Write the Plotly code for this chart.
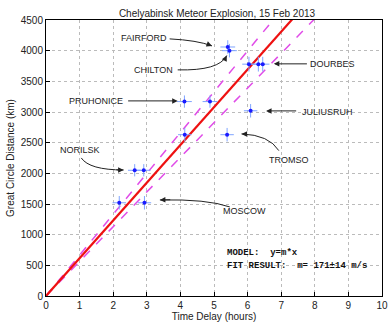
import plotly.graph_objects as go

# Station timing measurements: delay (hours) vs great-circle distance (km)
delay_h = [5.41, 5.46, 6.04, 6.32, 6.45, 4.12, 4.88, 6.09, 5.39, 4.13, 2.64, 2.91, 2.18, 2.93]
distance_km = [4060, 4000, 3780, 3780, 3780, 3170, 3170, 3020, 2630, 2630, 2050, 2050, 1520, 1520]
delay_err_h = [0.22, 0.22, 0.2, 0.2, 0.2, 0.22, 0.22, 0.2, 0.2, 0.2, 0.2, 0.2, 0.2, 0.2]
distance_err_km = [110, 110, 120, 120, 120, 100, 100, 110, 110, 110, 100, 100, 110, 110]

# Fit result (m/s)
fit_m = 171
fit_dm = 14

# Station labels: name, text position, arrow path (start, control, tip)
station_names = ["FAIRFORD", "CHILTON", "DOURBES", "PRUHONICE", "JULIUSRUH", "TROMSO", "NORILSK", "MOSCOW"]
label_x = [2.92, 3.19, 8.54, 1.49, 8.39, 7.22, 1.02, 5.91]
label_y = [4209, 3687, 3785, 3186, 3007, 2219, 2387, 1392]
arrow_start = [(3.68, 4192), (3.92, 3687), (7.81, 3785), (2.40, 3181), (7.49, 3018), (6.93, 2370), (1.05, 2251), (5.47, 1452)]
arrow_ctrl = [(4.50, 4170), (5.15, 3670), None, None, None, (6.64, 2626), (1.29, 2055), (4.80, 1582)]
arrow_tip = [(4.94, 4078), (5.38, 3920), (6.78, 3785), (3.92, 3181), (6.55, 3018), (5.82, 2643), (2.31, 2055), (3.39, 1566)]

x_ticks = list(range(0, 11))
y_ticks = list(range(0, 4501, 500))

KMH_PER_MS = 3.6
x_line = [0, 10]

fig = go.Figure()

# Fit line with +/- uncertainty bounds
for m, color, dash, width in [
    (fit_m + fit_dm, "#e04ce8", "dash", 1.5),
    (fit_m - fit_dm, "#e04ce8", "dash", 1.5),
    (fit_m, "#ee1111", "solid", 2.2),
]:
    fig.add_trace(go.Scatter(
        x=x_line, y=[v * m * KMH_PER_MS for v in x_line],
        mode="lines", line=dict(color=color, dash=dash, width=width),
        hoverinfo="skip", showlegend=False,
    ))

fig.add_trace(go.Scatter(
    x=delay_h, y=distance_km, mode="markers",
    marker=dict(color="#1a1aff", size=4),
    error_x=dict(type="data", array=delay_err_h, color="#7fa4ff", thickness=1, width=0),
    error_y=dict(type="data", array=distance_err_km, color="#7fa4ff", thickness=1, width=0),
    showlegend=False,
))

label_font = dict(family="Liberation Sans, Arial", size=9, color="#222")
for name, lx, ly, s, c, t in zip(station_names, label_x, label_y, arrow_start, arrow_ctrl, arrow_tip):
    fig.add_annotation(x=lx, y=ly, text=name, showarrow=False, font=label_font)
    if c is not None:
        # curved shaft, arrowhead added below
        fig.add_shape(type="path", xref="x", yref="y",
                      path=f"M {s[0]},{s[1]} Q {c[0]},{c[1]} {t[0]},{t[1]}",
                      line=dict(color="#222", width=1))
        hx = t[0] + (c[0] - t[0]) * 0.25
        hy = t[1] + (c[1] - t[1]) * 0.25
    else:
        hx, hy = s
    fig.add_annotation(x=t[0], y=t[1], ax=hx, ay=hy, axref="x", ayref="y",
                       text="", showarrow=True, arrowhead=2, arrowsize=1.1,
                       arrowwidth=1, arrowcolor="#222")

mono = dict(family="Liberation Mono, Courier New", size=9, color="#111")
fig.add_annotation(x=5.32, y=701, text="<b>MODEL:  y=m*x</b>", showarrow=False,
                   xanchor="left", font=mono)
fig.add_annotation(x=5.32, y=489,
                   text=f"<b>FIT RESULT:  m= {fit_m}\u00b1{fit_dm} m/s</b>",
                   showarrow=False, xanchor="left", font=mono)

axis_common = dict(
    showline=True, linecolor="#000", linewidth=1, mirror=True,
    ticks="inside", ticklen=4, tickcolor="#000",
    showgrid=True, gridcolor="#bbbbbb", griddash="dot", gridwidth=1,
    zeroline=False, tickfont=dict(family="Liberation Sans, Arial", size=10, color="#222"),
)

fig.update_layout(
    width=391, height=323,
    margin=dict(l=46, r=3, t=20, b=26),
    paper_bgcolor="white", plot_bgcolor="white",
    title=dict(text="Chelyabinsk Meteor Explosion, 15 Feb 2013", x=0.555, y=0.97,
               xanchor="center", yanchor="top",
               font=dict(family="Liberation Sans, Arial", size=10, color="#222")),
    xaxis=dict(range=[0, 10], tickvals=x_ticks, ticklabeloverflow="allow", **axis_common,
               title=dict(text="Time Delay (hours)", standoff=2,
                          font=dict(family="Liberation Sans, Arial", size=10, color="#222"))),
    yaxis=dict(range=[0, 4500], tickvals=y_ticks, **axis_common,
               title=dict(text="Great Circle Distance (km)", standoff=4,
                          font=dict(family="Liberation Sans, Arial", size=10, color="#222"))),
)

fig.write_html("out.html")
